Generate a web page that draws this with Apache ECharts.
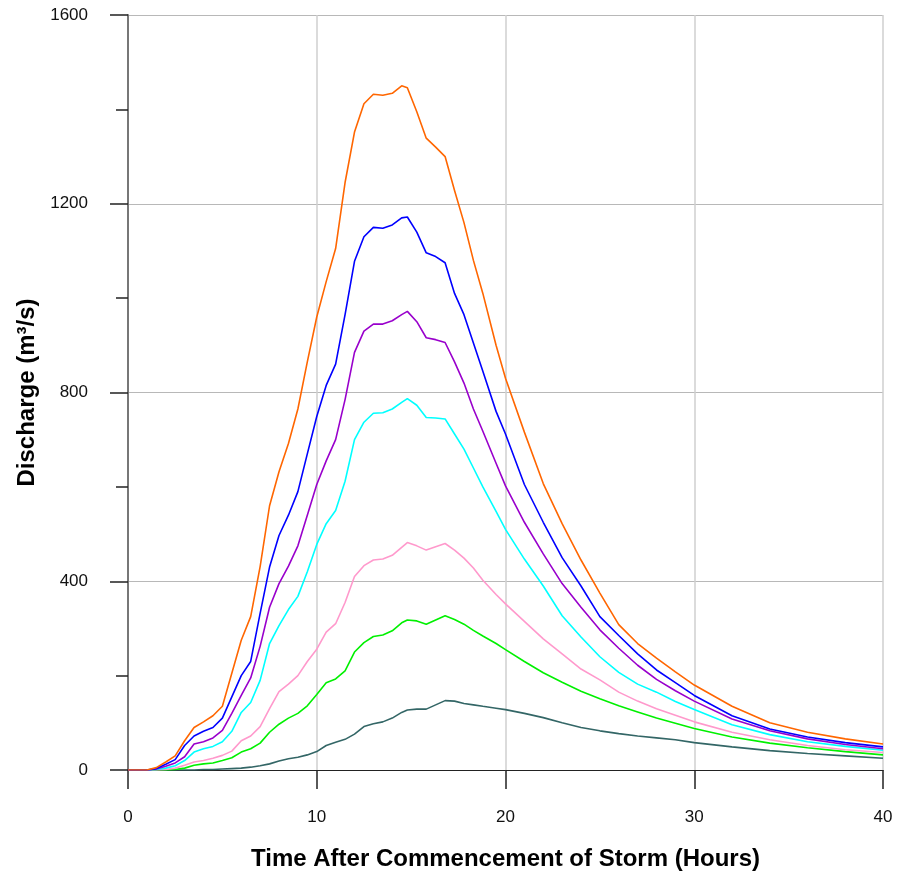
<!DOCTYPE html>
<html>
<head>
<meta charset="utf-8">
<script src="https://cdn.jsdelivr.net/npm/echarts@6/dist/echarts.min.js"></script>
<style>html,body{margin:0;padding:0;background:#fff;}#chart{width:897px;height:877px;}</style>
</head>
<body>
<div id="chart"></div>
<script>
const times = [0,0.5,1,1.5,2,2.5,3,3.5,4,4.5,5,5.5,6,6.5,7,7.5,8,8.5,9,9.5,10,10.5,11,11.5,12,12.5,13,13.5,14,14.5,14.8,15.3,15.8,16.3,16.8,17.3,17.8,18.3,18.8,19.5,20,21,22,23,24,25,26,27,28,29,30,32,34,36,38,40];

const orangeQ = [0,0,0,5,17,30,62,90,102,115,135,205,275,325,431,560,632,692,765,865,960,1035,1105,1245,1352,1412,1432,1430,1434,1450,1446,1395,1339,1320,1300,1228,1160,1080,1010,900,830,716,607,522,445,375,308,268,237,208,180,135,100,80,66,55];
const blueQ = [0,0,0,3,12,22,52,72,82,90,110,155,200,230,332,430,497,540,590,670,749,815,860,965,1078,1130,1150,1148,1155,1170,1172,1140,1096,1088,1075,1010,965,905,845,760,712,605,525,450,390,325,285,246,212,185,158,115,87,70,58,49];
const purpleQ = [0,0,0,2,8,15,28,55,60,68,84,120,158,195,262,345,395,432,475,540,605,655,700,785,885,930,945,945,952,965,972,950,916,912,906,865,820,765,718,650,602,525,458,395,345,297,258,222,192,168,146,108,83,66,54,45];
const cyanQ = [0,0,0,1,4,9,20,38,45,50,60,82,122,143,190,268,306,340,368,420,478,522,550,612,700,737,756,757,765,779,787,773,747,746,744,712,680,640,600,548,510,447,390,327,282,240,207,182,165,145,128,96,75,60,50,42];
const pinkQ = [0,0,0,0,1,4,10,17,20,25,31,40,62,72,92,130,166,182,200,230,256,292,310,355,410,433,445,447,455,472,482,475,466,473,480,466,449,428,402,372,352,315,278,246,214,191,165,146,130,116,102,80,64,52,43,37];
const greenQ = [0,0,0,0,0,1,4,10,13,15,20,26,38,45,57,80,97,110,120,136,160,185,193,210,250,270,283,286,295,312,318,316,309,318,327,319,309,296,284,268,255,230,206,186,167,151,136,123,110,99,88,70,57,47,39,32];
const slateQ = [0,0,0,0,0,0,0,0,1,1,2,3,4,6,9,13,19,24,27,32,39,52,59,65,76,92,98,102,110,122,127,129,129,138,147,146,141,138,135,131,128,120,111,100,90,83,77,72,68,64,58,49,41,35,30,25];

const xTicks = [0,10,20,30,40];
const yTicks = [0,400,800,1200,1600];

const seriesDefs = [
  {name:'slate', data: slateQ, color:'#336666'},
  {name:'green', data: greenQ, color:'#00F000'},
  {name:'pink', data: pinkQ, color:'#FF99CC'},
  {name:'cyan', data: cyanQ, color:'#00FFFF'},
  {name:'purple', data: purpleQ, color:'#9900CC'},
  {name:'blue', data: blueQ, color:'#0000FF'},
  {name:'orange', data: orangeQ, color:'#FF6600'}
];

const chart = echarts.init(document.getElementById('chart'), null, {renderer:'canvas'});
const font = 'Liberation Sans, Arial, Helvetica, sans-serif';
chart.setOption({
  animation: false,
  backgroundColor: '#ffffff',
  grid: {left: 128, right: 14, top: 15, bottom: 107, containLabel: false},
  xAxis: {
    type: 'value', min: xTicks[0], max: xTicks[xTicks.length-1], interval: 10,
    name: 'Time After Commencement of Storm (Hours)', nameLocation: 'middle', nameGap: 77,
    nameTextStyle: {fontFamily: font, fontWeight: 'bold', fontSize: 24, color: '#000'},
    axisLine: {show: true, lineStyle: {color: '#222', width: 1}},
    axisTick: {show: true, length: 19, lineStyle: {color: '#222', width: 1.5}},
    axisLabel: {margin: 39, fontFamily: font, fontSize: 17, color: '#111', formatter: v => String(v)},
    splitLine: {show: true, lineStyle: {color: '#cfcfcf', width: 1.5}}
  },
  yAxis: {
    type: 'value', min: yTicks[0], max: yTicks[yTicks.length-1], interval: 400,
    name: 'Discharge (m³/s)', nameLocation: 'middle', nameGap: 81,
    nameTextStyle: {fontFamily: font, fontWeight: 'bold', fontSize: 24, color: '#000'},
    axisLine: {show: true, lineStyle: {color: '#777', width: 2}},
    axisTick: {show: true, length: 18, lineStyle: {color: '#222', width: 1.5}},
    minorTick: {show: true, splitNumber: 2, length: 12, lineStyle: {color: '#222', width: 1.5}},
    axisLabel: {margin: 40, fontFamily: font, fontSize: 17, color: '#111', formatter: v => String(v)},
    splitLine: {show: true, lineStyle: {color: '#b8b8b8', width: 1}}
  },
  series: seriesDefs.map(s => ({
    name: s.name, type: 'line', showSymbol: false, symbol: 'none',
    data: times.map((t, i) => [t, s.data[i]]),
    lineStyle: {color: s.color, width: 1.6},
    itemStyle: {color: s.color},
    z: 3
  }))
});
</script>
</body>
</html>
